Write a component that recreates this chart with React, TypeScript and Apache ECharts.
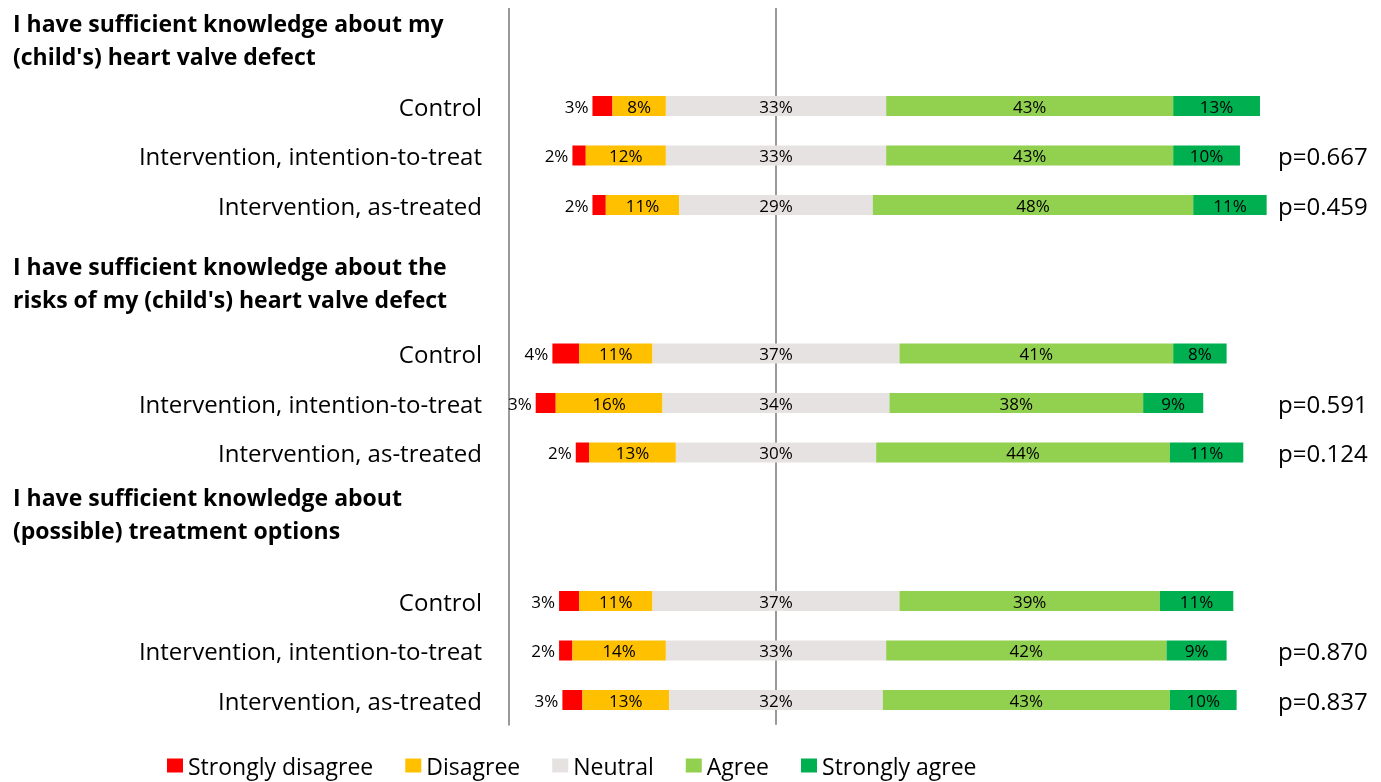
import React, { useEffect, useRef } from "react";
import * as echarts from "echarts";

const questions = [
  "I have sufficient knowledge about my\n(child's) heart valve defect",
  "I have sufficient knowledge about the\nrisks of my (child's) heart valve defect",
  "I have sufficient knowledge about\n(possible) treatment options",
];
const groups = ["Control", "Intervention, intention-to-treat", "Intervention, as-treated"];

// per question x group (3 x 3), in order
const stronglyDisagree = [3, 2, 2, 4, 3, 2, 3, 2, 3];
const disagree = [8, 12, 11, 11, 16, 13, 11, 14, 13];
const neutral = [33, 33, 29, 37, 34, 30, 37, 33, 32];
const agree = [43, 43, 48, 41, 38, 44, 39, 42, 43];
const stronglyAgree = [13, 10, 11, 8, 9, 11, 11, 9, 10];
const pValues = ["", "p=0.667", "p=0.459", "", "p=0.591", "p=0.124", "", "p=0.870", "p=0.837"];

const seriesNames = ["Strongly disagree", "Disagree", "Neutral", "Agree", "Strongly agree"];
const seriesColors = ["#FF0000", "#FFC000", "#E7E2E2", "#92D050", "#00B050"];

const FONT = "Open Sans";

export default function App() {
  const ref = useRef<HTMLDivElement>(null);

  useEffect(() => {
    if (!ref.current) return;
    const chart = echarts.init(ref.current, undefined, { renderer: "svg" });

    // rows: for each question two blank rows then three group rows
    const rowIdx: (number | null)[] = [];
    questions.forEach((_, q) => {
      rowIdx.push(null, null);
      groups.forEach((_, g) => rowIdx.push(q * groups.length + g));
    });
    const rowKeys = rowIdx.map((_, i) => "r" + i);
    const rowLabels = rowIdx.map((r) => (r == null ? "" : groups[r % groups.length]));
    const rowP = rowIdx.map((r) => (r == null ? "" : pValues[r]));

    const valueArrays = [stronglyDisagree, disagree, neutral, agree, stronglyAgree];
    const pick = (arr: number[]) => rowIdx.map((r) => (r == null ? "-" : arr[r]));
    const offsets = rowIdx.map((r) =>
      r == null ? "-" : -(stronglyDisagree[r] + disagree[r] + neutral[r] / 2)
    );

    const common = {
      type: "bar",
      stack: "total",
      stackStrategy: "all",
      barWidth: 20,
      emphasis: { disabled: true },
    };

    const series: any[] = [
      {
        ...common,
        name: "_offset",
        data: offsets,
        itemStyle: { color: "transparent" },
        label: { show: false },
        z: 1,
        markLine: {
          silent: true,
          symbol: "none",
          z: 1,
          label: { show: false },
          lineStyle: { color: "#999999", width: 2, type: "solid" },
          data: [{ xAxis: 0 }],
        },
      },
      ...valueArrays.map((arr, i) => ({
        ...common,
        name: seriesNames[i],
        data: pick(arr),
        z: 3,
        itemStyle: { color: seriesColors[i] },
        label: {
          show: true,
          position: i === 0 ? "left" : "inside",
          distance: 4,
          formatter: (p: any) => `${p.value}%`,
          color: "#000",
          fontFamily: FONT,
          fontSize: 17,
        },
      })),
    ];

    const headerCenters = [31.5, 274, 505.5];

    chart.setOption({
      animation: false,
      textStyle: { fontFamily: FONT },
      grid: {
        left: 509,
        top: -25.75,
        width: 761,
        height: 742.5,
        containLabel: false,
        outerBoundsMode: "none",
      },
      xAxis: {
        type: "value",
        min: -40,
        max: 74,
        show: false,
      },
      yAxis: [
        {
          type: "category",
          data: rowKeys,
          inverse: true,
          axisLine: { show: true, onZero: false, lineStyle: { color: "#999999", width: 2 } },
          axisTick: { show: false },
          axisLabel: {
            margin: 27,
            fontSize: 24,
            fontFamily: FONT,
            color: "#000",
            formatter: (_: any, i: number) => rowLabels[i],
          },
        },
        {
          type: "category",
          position: "right",
          data: rowKeys,
          inverse: true,
          axisLine: { show: false },
          axisTick: { show: false },
          axisLabel: {
            margin: 8,
            fontSize: 24,
            fontFamily: FONT,
            color: "#000",
            formatter: (_: any, i: number) => rowP[i],
          },
        },
      ],
      legend: {
        data: seriesNames,
        left: 167,
        top: 746,
        padding: 0,
        icon: "rect",
        itemWidth: 16,
        itemHeight: 14,
        itemGap: 32,
        textStyle: { fontSize: 23, lineHeight: 22, fontFamily: FONT, color: "#000" },
        selectedMode: false,
      },
      graphic: questions.map((q, i) => ({
        type: "text",
        x: 13,
        y: headerCenters[i],
        style: {
          text: q,
          font: `bold 23px "${FONT}"`,
          fill: "#000",
          lineHeight: 33,
          verticalAlign: "middle",
        },
      })),
      series,
    });

    return () => chart.dispose();
  }, []);

  return (
    <div
      ref={ref}
      style={{ position: "fixed", left: 0, top: 8, width: 1381, height: 774 }}
    />
  );
}
